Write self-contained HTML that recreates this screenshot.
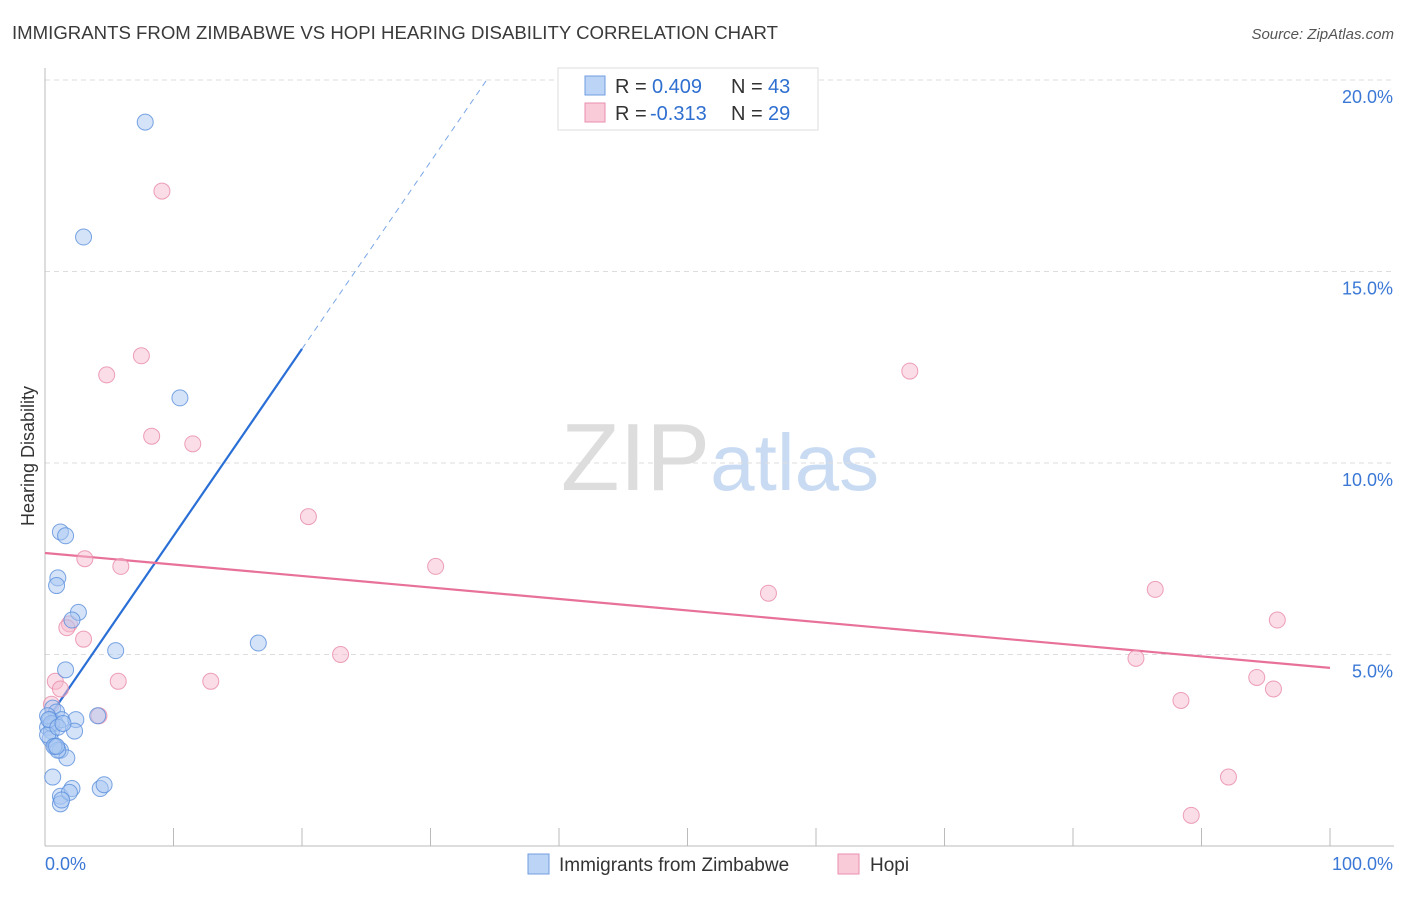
<!DOCTYPE html>
<html><head><meta charset="utf-8"><style>
body{margin:0;background:#fff;font-family:"Liberation Sans",sans-serif;}
svg text{font-family:"Liberation Sans",sans-serif;}
</style></head><body>
<svg id="chart" width="1406" height="892" xmlns="http://www.w3.org/2000/svg">
<text x="12" y="39" font-size="18" fill="#3a3a3a" textLength="766" lengthAdjust="spacingAndGlyphs">IMMIGRANTS FROM ZIMBABWE VS HOPI HEARING DISABILITY CORRELATION CHART</text>
<text x="1394" y="39" font-size="15" fill="#555" text-anchor="end" font-style="italic">Source: ZipAtlas.com</text>
<text x="720" y="490" font-size="96" text-anchor="middle" fill="#ddd" font-family="Liberation Serif">ZIP<tspan fill="#c9dbf2" font-family="Liberation Sans" font-size="80">atlas</tspan></text>
<g id="grid"></g>
<g id="axes"></g>
<g id="trends"></g>
<g id="pts"></g>
<text transform="translate(34,456) rotate(-90)" font-size="18" fill="#333" text-anchor="middle">Hearing Disability</text>
<g>
<rect x="558" y="68" width="260" height="62" fill="#fff" stroke="#ddd"/>
<rect x="585" y="76" width="20" height="19" fill="#bcd4f5" stroke="#6f9ee0"/>
<rect x="585" y="103" width="20" height="19" fill="#f9cad8" stroke="#ea8fae"/>
<text x="615" y="93" font-size="20" fill="#333">R =</text>
<text x="652" y="93" font-size="20" fill="#2f6fd0">0.409</text>
<text x="731" y="93" font-size="20" fill="#333">N =</text>
<text x="768" y="93" font-size="20" fill="#2f6fd0">43</text>
<text x="615" y="120" font-size="20" fill="#333">R =</text>
<text x="650" y="120" font-size="20" fill="#2f6fd0">-0.313</text>
<text x="731" y="120" font-size="20" fill="#333">N =</text>
<text x="768" y="120" font-size="20" fill="#2f6fd0">29</text>
</g>
<g>
<rect x="528" y="854" width="21" height="20" fill="#bcd4f5" stroke="#6f9ee0"/>
<text x="559" y="871" font-size="19" fill="#333">Immigrants from Zimbabwe</text>
<rect x="838" y="854" width="21" height="20" fill="#f9cad8" stroke="#ea8fae"/>
<text x="870" y="871" font-size="19" fill="#333">Hopi</text>
</g>
</svg>
<script>
const NS="http://www.w3.org/2000/svg";
const yTicks=[5,10,15,20];
const yTickLabels=["5.0%","10.0%","15.0%","20.0%"];
const xTickLabels=["0.0%","100.0%"];
const blueX=[7.8,3.0,10.5,1.2,1.6,1.0,0.9,2.6,5.5,16.6,1.6,2.1,0.6,0.9,0.4,0.8,1.3,2.4,0.2,0.5,2.3,0.4,0.8,1.2,1.7,0.6,1.0,1.2,2.1,1.2,4.3,4.6,4.1,0.2,0.5,0.2,0.7,0.3,1.0,1.9,1.3,0.9,1.4];
const blueY=[18.9,15.9,11.7,8.2,8.1,7.0,6.8,6.1,5.1,5.3,4.6,5.9,3.6,3.5,3.3,3.2,3.3,3.3,3.1,3.0,3.0,2.8,2.6,2.5,2.3,1.8,2.5,1.3,1.5,1.1,1.5,1.6,3.4,3.4,3.2,2.9,2.6,3.3,3.1,1.4,1.2,2.6,3.2];
const pinkX=[9.1,7.5,4.8,8.3,11.5,67.3,20.5,3.1,5.9,30.4,56.3,86.4,95.9,1.9,1.7,3.0,0.8,1.2,5.7,12.9,23.0,84.9,88.4,94.3,95.6,92.1,89.2,4.2,0.5];
const pinkY=[17.1,12.8,12.3,10.7,10.5,12.4,8.6,7.5,7.3,7.3,6.6,6.7,5.9,5.8,5.7,5.4,4.3,4.1,4.3,4.3,5.0,4.9,3.8,4.4,4.1,1.8,0.8,3.4,3.7];
const blueTrend=[3.21,12.98];
const pinkTrend=[7.65,4.65];
const X=v=>45+v*12.85, Y=v=>846-v*38.3;
function mk(tag,attrs,parent){const e=document.createElementNS(NS,tag);for(const k in attrs)e.setAttribute(k,attrs[k]);parent.appendChild(e);return e;}
const grid=document.getElementById('grid'),axes=document.getElementById('axes'),tr=document.getElementById('trends'),pts=document.getElementById('pts');
yTicks.forEach((t,i)=>{
 const l=mk('line',{x1:45,x2:1394,y1:Y(t),y2:Y(t),stroke:'#ddd','stroke-dasharray':'5,4'},grid);
 
 
 const tx=mk('text',{x:1393,y:Y(t)+23,'font-size':18,fill:'#3b78d6','text-anchor':'end'},axes);
 tx.textContent=yTickLabels[i];
 
 
});
mk('line',{x1:45,x2:45,y1:68,y2:846,stroke:'#bbb'},axes);
mk('line',{x1:45,x2:1394,y1:846,y2:846,stroke:'#bbb'},axes);
for(let i=0;i<=10;i++){const l=mk('line',{x1:X(i*10),x2:X(i*10),y1:828,y2:846,stroke:'#bbb'},axes);
 
 }
const xl0=mk('text',{x:45,y:870,'font-size':18,fill:'#3b78d6'},axes);xl0.textContent=xTickLabels[0];


const xl1=mk('text',{x:1393,y:870,'font-size':18,fill:'#3b78d6','text-anchor':'end'},axes);xl1.textContent=xTickLabels[1];


function dot(x,y,f,s,name){const c=mk('circle',{cx:X(x),cy:Y(y),r:8,fill:f,'fill-opacity':0.5,stroke:s,'stroke-opacity':0.8,'stroke-width':1},pts);
 
 }
pinkX.forEach((x,i)=>dot(x,pinkY[i],'#f6bccd','#e88aa8','hopi-point'));
blueX.forEach((x,i)=>dot(x,blueY[i],'#aac8f2','#5a8fdc','zimbabwe-point'));
const slope=(blueTrend[1]-blueTrend[0])/20;
const bs=mk('line',{x1:X(0),y1:Y(blueTrend[0]),x2:X(20),y2:Y(blueTrend[1]),stroke:'#2a6fd6','stroke-width':2.2},tr);


const xe=(20-blueTrend[0])/slope;
const bd=mk('line',{x1:X(20),y1:Y(blueTrend[1]),x2:X(xe),y2:Y(20),stroke:'#7aa6e6','stroke-width':1,'stroke-dasharray':'6,5'},tr);


const pl=mk('line',{x1:X(0),y1:Y(pinkTrend[0]),x2:X(100),y2:Y(pinkTrend[1]),stroke:'#e8719a','stroke-width':2.2},tr);


</script>
</body></html>
